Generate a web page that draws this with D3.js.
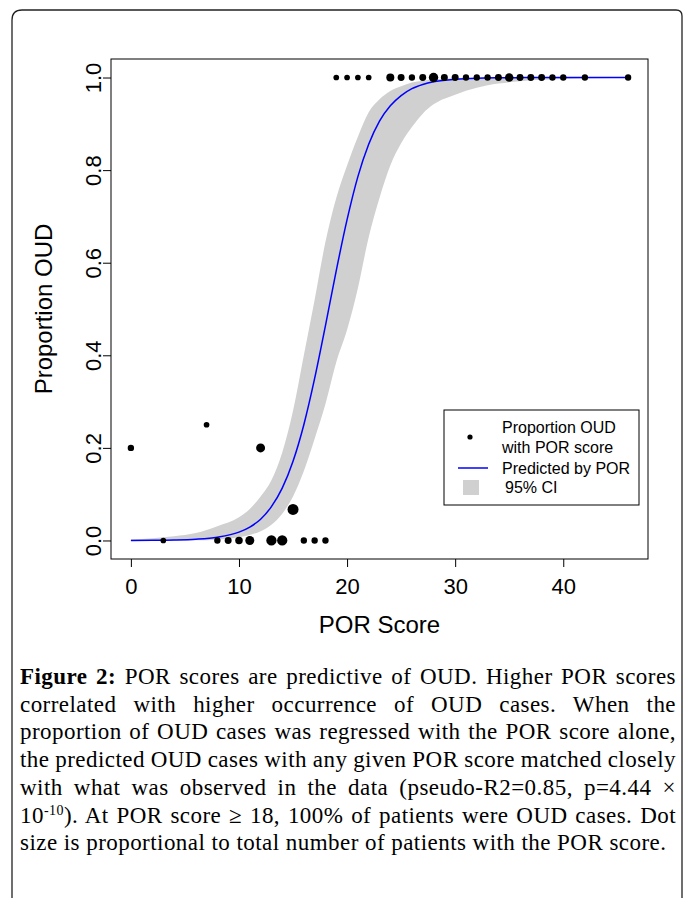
<!DOCTYPE html>
<html>
<head>
<meta charset="utf-8">
<script src="https://cdn.jsdelivr.net/npm/d3@7/dist/d3.min.js"></script>
<style>
body { margin: 0; background: #fff; }
svg { display: block; }
</style>
</head>
<body>
<script>
// observed proportion of OUD per POR score, and patients per score (dot size)
var porScore = [0, 3, 7, 8, 9, 10, 11, 12, 13, 14, 15, 16, 17, 18,
  19, 20, 21, 22, 24, 25, 26, 27, 28, 29, 30, 31, 32, 33, 34, 35, 36, 37, 38, 39, 40, 42, 46]
var propOUD = [0.2, 0, 0.25, 0, 0, 0, 0, 0.2, 0, 0, 0.067, 0, 0, 0,
  1, 1, 1, 1, 1, 1, 1, 1, 1, 1, 1, 1, 1, 1, 1, 1, 1, 1, 1, 1, 1, 1, 1]
var nPatients = [5, 4, 4, 5, 6, 7, 10, 10, 13, 13, 15, 5, 5, 5,
  4, 4, 4, 4, 8, 6, 5, 6, 11, 6, 6, 5, 5, 5, 6, 9, 6, 6, 6, 5, 5, 5, 5]

// fitted curve and 95% CI
var fitScore = [0, 2, 4, 6, 8, 10, 11, 12, 13, 14, 15, 16, 17, 18, 19, 20, 21, 22, 23, 24, 25, 26, 27, 28, 30, 32, 34, 36, 38, 40, 43, 46]
var fitPred = [0.0002, 0.0004, 0.001, 0.0027, 0.007, 0.018, 0.029, 0.046, 0.073, 0.113, 0.171, 0.25, 0.35, 0.464,
  0.583, 0.693, 0.786, 0.856, 0.906, 0.939, 0.961, 0.976, 0.985, 0.991, 0.996, 0.9986, 0.9995, 0.9998, 0.9999, 1, 1, 1]
var fitLower = [0.00002, 0.00005, 0.0001, 0.0004, 0.0016, 0.007, 0.012, 0.02, 0.034, 0.058, 0.095, 0.15, 0.22, 0.295,
  0.385, 0.455, 0.545, 0.655, 0.74, 0.81, 0.858, 0.893, 0.922, 0.942, 0.963, 0.978, 0.987, 0.992, 0.995, 0.997, 0.9985, 0.9993]
var fitUpper = [0.0025, 0.005, 0.009, 0.016, 0.031, 0.05, 0.068, 0.095, 0.13, 0.19, 0.28, 0.40, 0.52, 0.645,
  0.74, 0.81, 0.872, 0.925, 0.953, 0.971, 0.981, 0.989, 0.993, 0.996, 0.9985, 0.9995, 1, 1, 1, 1, 1, 1]

var xTicks = [0, 10, 20, 30, 40]
var yTicks = [0, 0.2, 0.4, 0.6, 0.8, 1.0]
var legendText = ['Proportion OUD', 'with POR score', 'Predicted by POR', '95% CI']

var captionLines = [
  [{ t: 'Figure 2:', b: true }, { t: ' POR scores are predictive of OUD. Higher POR scores' }],
  [{ t: 'correlated with higher occurrence of OUD cases. When the' }],
  [{ t: 'proportion of OUD cases was regressed with the POR score alone,' }],
  [{ t: 'the predicted OUD cases with any given POR score matched closely' }],
  [{ t: 'with what was observed in the data (pseudo-R2=0.85, p=4.44 \u00d7' }],
  [{ t: '10' }, { t: '-10', sup: true }, { t: '). At POR score \u2265 18, 100% of patients were OUD cases. Dot' }],
  [{ t: 'size is proportional to total number of patients with the POR score.' }]
]

var W = 683, H = 898
var sans = 'Liberation Sans, Arial, sans-serif'

var svg = d3.select('body').append('svg')
  .attr('width', W)
  .attr('height', H)

// page frame
svg.append('path')
  .attr('d', 'M12,' + H + ' V20 Q12,10 22,10 H676 Q682,10 682,16 V' + H)
  .attr('fill', 'none')
  .attr('stroke', '#222')
  .attr('stroke-width', 1.3)

var pLeft = 111, pRight = 648, pTop = 59, pBottom = 559

var x = d3.scaleLinear()
  .domain([-1.84, 47.84])
  .range([pLeft, pRight])

var y = d3.scaleLinear()
  .domain([-0.04, 1.04])
  .range([pBottom, pTop])

var r = d3.scaleSqrt()
  .domain([0, 15])
  .range([0, 5.5])

var fit = fitScore.map(function(s, i) {
  return { s: s, p: fitPred[i], lo: fitLower[i], hi: fitUpper[i] }
})

var band = d3.area()
  .x(function(d) { return x(d.s) })
  .y0(function(d) { return y(d.lo) })
  .y1(function(d) { return y(d.hi) })
  .curve(d3.curveMonotoneX)

svg.append('path')
  .datum(fit)
  .attr('d', band)
  .attr('fill', '#d0d0d0')

var line = d3.line()
  .x(function(d) { return x(d.s) })
  .y(function(d) { return y(d.p) })
  .curve(d3.curveMonotoneX)

svg.append('path')
  .datum(fit)
  .attr('d', line)
  .attr('fill', 'none')
  .attr('stroke', '#0000ff')
  .attr('stroke-width', 1.5)

svg.selectAll('.dot')
  .data(porScore)
  .enter()
  .append('circle')
  .attr('class', 'dot')
  .attr('cx', function(d) { return x(d) })
  .attr('cy', function(d, i) { return y(propOUD[i]) })
  .attr('r', function(d, i) { return r(nPatients[i]) })
  .attr('fill', '#000')

// plot box
svg.append('rect')
  .attr('x', pLeft)
  .attr('y', pTop)
  .attr('width', pRight - pLeft)
  .attr('height', pBottom - pTop)
  .attr('fill', 'none')
  .attr('stroke', '#000')
  .attr('stroke-width', 1)

var xAxis = svg.append('g')
  .attr('transform', 'translate(0,' + pBottom + ')')
  .call(d3.axisBottom(x).tickValues(xTicks).tickSize(8).tickPadding(11))
xAxis.select('.domain').remove()
xAxis.selectAll('text')
  .style('font-family', sans)
  .style('font-size', '22px')
  .attr('fill', '#000')

var yAxis = svg.append('g')
  .attr('transform', 'translate(' + pLeft + ',0)')
  .call(d3.axisLeft(y).tickValues(yTicks).tickSize(8).tickFormat(d3.format('.1f')))
yAxis.select('.domain').remove()
yAxis.selectAll('text')
  .attr('x', 0)
  .attr('dy', 0)
  .attr('transform', 'translate(-10,0) rotate(-90)')
  .attr('text-anchor', 'middle')
  .style('font-family', sans)
  .style('font-size', '22px')
  .attr('fill', '#000')

svg.append('text')
  .attr('transform', 'translate(52,' + ((pTop + pBottom) / 2) + ') rotate(-90)')
  .attr('text-anchor', 'middle')
  .style('font-family', sans)
  .style('font-size', '24px')
  .text('Proportion OUD')

svg.append('text')
  .attr('x', (pLeft + pRight) / 2)
  .attr('y', 633)
  .attr('text-anchor', 'middle')
  .style('font-family', sans)
  .style('font-size', '24px')
  .text('POR Score')

// legend
var lg = svg.append('g')
lg.append('rect')
  .attr('x', 444).attr('y', 410)
  .attr('width', 195).attr('height', 95)
  .attr('fill', '#fff')
  .attr('stroke', '#000')
lg.append('circle')
  .attr('cx', 470).attr('cy', 437).attr('r', 2.6)
  .attr('fill', '#000')
lg.append('line')
  .attr('x1', 458).attr('x2', 488)
  .attr('y1', 468).attr('y2', 468)
  .attr('stroke', '#0000ff')
  .attr('stroke-width', 1.5)
lg.append('rect')
  .attr('x', 463).attr('y', 480)
  .attr('width', 16).attr('height', 15)
  .attr('fill', '#d0d0d0')
lg.selectAll('.lt')
  .data(legendText)
  .enter()
  .append('text')
  .attr('class', 'lt')
  .attr('x', function(d, i) { return i == 3 ? 505 : 502 })
  .attr('y', function(d, i) { return [433, 453, 474, 493][i] })
  .style('font-family', sans)
  .style('font-size', '16px')
  .text(function(d) { return d })

// caption, each line justified to the full width
var capLeft = 20, capRight = 676
captionLines.forEach(function(parts, i) {
  var t = svg.append('text')
    .attr('x', capLeft)
    .attr('y', 684 + i * 27.7)
    .style('font-family', 'Liberation Serif, Times New Roman, serif')
    .style('font-size', '23px')
    .style('letter-spacing', '0.45px')
  parts.forEach(function(p, j) {
    var ts = t.append('tspan').text(p.t)
    if (p.b) ts.style('font-weight', 'bold')
    if (p.sup) ts.attr('dy', -8).style('font-size', '14px')
    if (j > 0 && parts[j - 1].sup) ts.attr('dy', 8)
  })
  if (i < captionLines.length - 1) {
    var spaces = parts.map(function(p) { return p.t }).join('').split(' ').length - 1
    var w = t.node().getComputedTextLength()
    t.style('word-spacing', ((capRight - capLeft - w) / spaces) + 'px')
  }
})
</script>
</body>
</html>
